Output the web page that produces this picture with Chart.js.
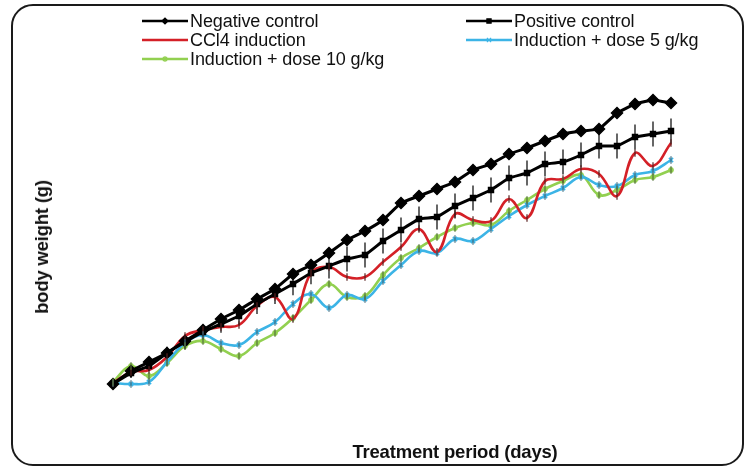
<!DOCTYPE html>
<html>
<head>
<meta charset="utf-8">
<script src="https://cdn.jsdelivr.net/npm/chart.js@4.4.1/dist/chart.umd.min.js"></script>
<style>
  body { margin: 0; background: #fff; }
  #wrap { position: relative; width: 746px; height: 470px; font-family: "Liberation Sans", Arial, sans-serif; color: #111; }
  #frame { position: absolute; left: 11px; top: 4px; width: 729px; height: 458px; border: 2px solid #1a1a1a; border-radius: 22px; }
  #chart { position: absolute; left: 0; top: 0; }
  .key { position: absolute; display: flex; align-items: center; height: 20px; font-size: 18px; letter-spacing: -0.1px; white-space: nowrap; }
  .key canvas { margin-right: 2px; }
  #x-title { position: absolute; left: 0; width: 910px; top: 441px; text-align: center; font-size: 18.5px; font-weight: bold; letter-spacing: -0.2px; }
  #y-title { position: absolute; left: 42px; top: 247px; transform: translate(-50%, -50%) rotate(-90deg); font-size: 18.5px; font-weight: bold; letter-spacing: -0.2px; white-space: nowrap; }
</style>
</head>
<body>
<div id="wrap">
  <div id="frame"></div>
  <canvas id="chart" width="746" height="470"></canvas>
  <div id="legend"></div>
  <div id="x-title">Treatment period (days)</div>
  <div id="y-title">body weight (g)</div>
</div>
<script>
'use strict';

// days of treatment
const days = ['1', '2', '3', '4', '5', '6', '7', '8', '9', '10', '11', '12', '13', '14', '15', '16',
  '17', '18', '19', '20', '21', '22', '23', '24', '25', '26', '27', '28', '29', '30', '31', '32'];

// body weight (g)
const negativeControl = [156.4, 161.6, 165.2, 168.8, 173.6, 178, 182.4, 186, 190.4, 194.4, 200.4, 204,
  208.8, 214, 217.6, 222, 228.8, 231.6, 234.4, 237.2, 242, 244.4, 248.4, 250.8, 253.6, 256.4, 257.6,
  258.4, 264.8, 268.4, 270, 268.8];
const positiveControl = [156.4, 160.8, 163.6, 168.8, 173.2, 177.2, 180.4, 183.6, 188.4, 192.4, 196.4,
  200.8, 203.6, 206.4, 208, 213.6, 218, 222.4, 223.2, 227.6, 230.8, 234, 238.8, 240.8, 244.4, 245.2,
  248, 251.6, 251.6, 255.2, 256.4, 257.6];
const ccl4Induction = [156.8, 161.2, 162, 167.2, 175.6, 178, 179.2, 180, 187.6, 191.2, 182.4, 200.8,
  203.2, 199.2, 199.2, 205.2, 211.2, 218.4, 209.2, 224.4, 222, 221.6, 230.4, 222.8, 237.6, 238.4,
  242.4, 240.4, 231.6, 248.8, 243.6, 252.8];
const dose5 = [156.8, 156.4, 157.2, 165.2, 172.8, 176, 172.8, 172, 177.2, 181.2, 188.4, 192.4, 186.8,
  192, 190.4, 197.6, 204, 209.6, 208.8, 214.4, 213.6, 218.4, 223.6, 228, 231.6, 234.8, 239.2, 236,
  235.6, 240, 241.6, 246];
const dose10 = [157.2, 163.6, 159.6, 164.8, 171.6, 173.6, 170.4, 167.6, 172.8, 176.8, 182.8, 190, 196.4,
  191.2, 191.6, 200, 206.8, 210.8, 215.2, 218.8, 220.8, 220, 225.6, 230, 234.4, 237.6, 240, 232, 234,
  238, 239.2, 242];

// standard errors (g)
const negativeErr = [1, 1, 1, 1, 1, 1, 1, 1, 1, 1, 1, 1, 1, 1, 1, 1, 1, 1, 1, 1, 1, 1, 1, 1, 1, 1, 1, 1, 1, 1, 1, 1];
const positiveErr = [1, 2, 2, 2.5, 3, 3, 3.5, 3.5, 4, 4, 4.5, 4.5, 5, 5, 5, 5, 5, 5, 5, 5, 5, 5, 5, 5,
  5, 5, 5, 5, 5, 5, 5, 5];
const ccl4Err = [1.5, 1.5, 1.5, 1.5, 1.5, 1.5, 1.5, 1.5, 1.5, 1.5, 1.5, 1.5, 1.5, 1.5, 1.5, 1.5, 1.5,
  1.5, 1.5, 1.5, 1.5, 1.5, 1.5, 1.5, 1.5, 1.5, 1.5, 1.5, 1.5, 1.5, 1.5, 1.5];
const dose5Err = ccl4Err;
const dose10Err = ccl4Err;

const seriesNames = ['Negative control', 'Positive control', 'CCl4 induction',
  'Induction + dose 5 g/kg', 'Induction + dose 10 g/kg'];

// error bars drawn through the y scale
const errorBars = {
  id: 'errorBars',
  afterDatasetsDraw(chart) {
    let ctx = chart.ctx;
    let yScale = chart.scales.y;
    chart.data.datasets.forEach(function (ds, di) {
      let meta = chart.getDatasetMeta(di);
      ctx.save();
      ctx.strokeStyle = ds.errorColor;
      ctx.lineWidth = 1.2;
      meta.data.forEach(function (pt, i) {
        let e = ds.errors[i];
        ctx.beginPath();
        ctx.moveTo(pt.x, yScale.getPixelForValue(ds.data[i] - e));
        ctx.lineTo(pt.x, yScale.getPixelForValue(ds.data[i] + e));
        ctx.stroke();
      });
      ctx.restore();
    });
  }
};

function makeSet(i, data, errors, color, errColor, style, radius, width, tension) {
  return {
    label: seriesNames[i],
    data: data,
    errors: errors,
    errorColor: errColor,
    borderColor: color,
    backgroundColor: color,
    pointStyle: style,
    pointRadius: radius,
    pointBorderWidth: 1.5,
    borderWidth: width,
    tension: tension,
    clip: false
  };
}

const datasets = [
  makeSet(0, negativeControl, negativeErr, '#000000', '#000000', 'rectRot', 5.5, 3, 0.1),
  makeSet(1, positiveControl, positiveErr, '#000000', '#000000', 'rect', 3.5, 3, 0.1),
  makeSet(2, ccl4Induction, ccl4Err, '#d42027', '#5a2020', 'line', 0, 2.6, 0.4),
  makeSet(3, dose5, dose5Err, '#3cb4e6', '#3a6c80', 'crossRot', 3, 2.6, 0.4),
  makeSet(4, dose10, dose10Err, '#92d050', '#56733a', 'star', 3, 2.6, 0.4)
];

const ctx = document.getElementById('chart').getContext('2d');

let myChart = new Chart(ctx, {
  type: 'line',
  data: { labels: days, datasets: datasets },
  options: {
    responsive: false,
    animation: false,
    layout: { padding: { left: 113, right: 75, top: 90, bottom: 70 } },
    plugins: { legend: { display: false }, tooltip: { enabled: false } },
    scales: {
      x: { display: false },
      y: { display: false, min: 150, max: 274 }
    }
  },
  plugins: [errorBars]
});

// html legend, two columns like the original
const legendSpots = [[142, 11], [466, 11], [142, 30], [466, 30], [142, 49]];
let legendBox = document.getElementById('legend');

datasets.forEach(function (ds, i) {
  let item = document.createElement('div');
  item.className = 'key';
  item.style.left = legendSpots[i][0] + 'px';
  item.style.top = legendSpots[i][1] + 'px';

  let sw = document.createElement('canvas');
  sw.width = 46;
  sw.height = 14;
  let c = sw.getContext('2d');
  c.strokeStyle = ds.borderColor;
  c.lineWidth = 2.6;
  c.beginPath();
  c.moveTo(0, 7);
  c.lineTo(46, 7);
  c.stroke();
  c.fillStyle = ds.backgroundColor;
  c.lineWidth = 1.2;
  if (ds.pointRadius > 0) {
    Chart.helpers.drawPoint(c, { pointStyle: ds.pointStyle, radius: Math.min(ds.pointRadius, 3), rotation: 0, borderWidth: 1.2 }, 23, 7);
  }
  item.appendChild(sw);

  let txt = document.createElement('span');
  txt.textContent = ds.label;
  item.appendChild(txt);
  legendBox.appendChild(item);
});
</script>
</body>
</html>
